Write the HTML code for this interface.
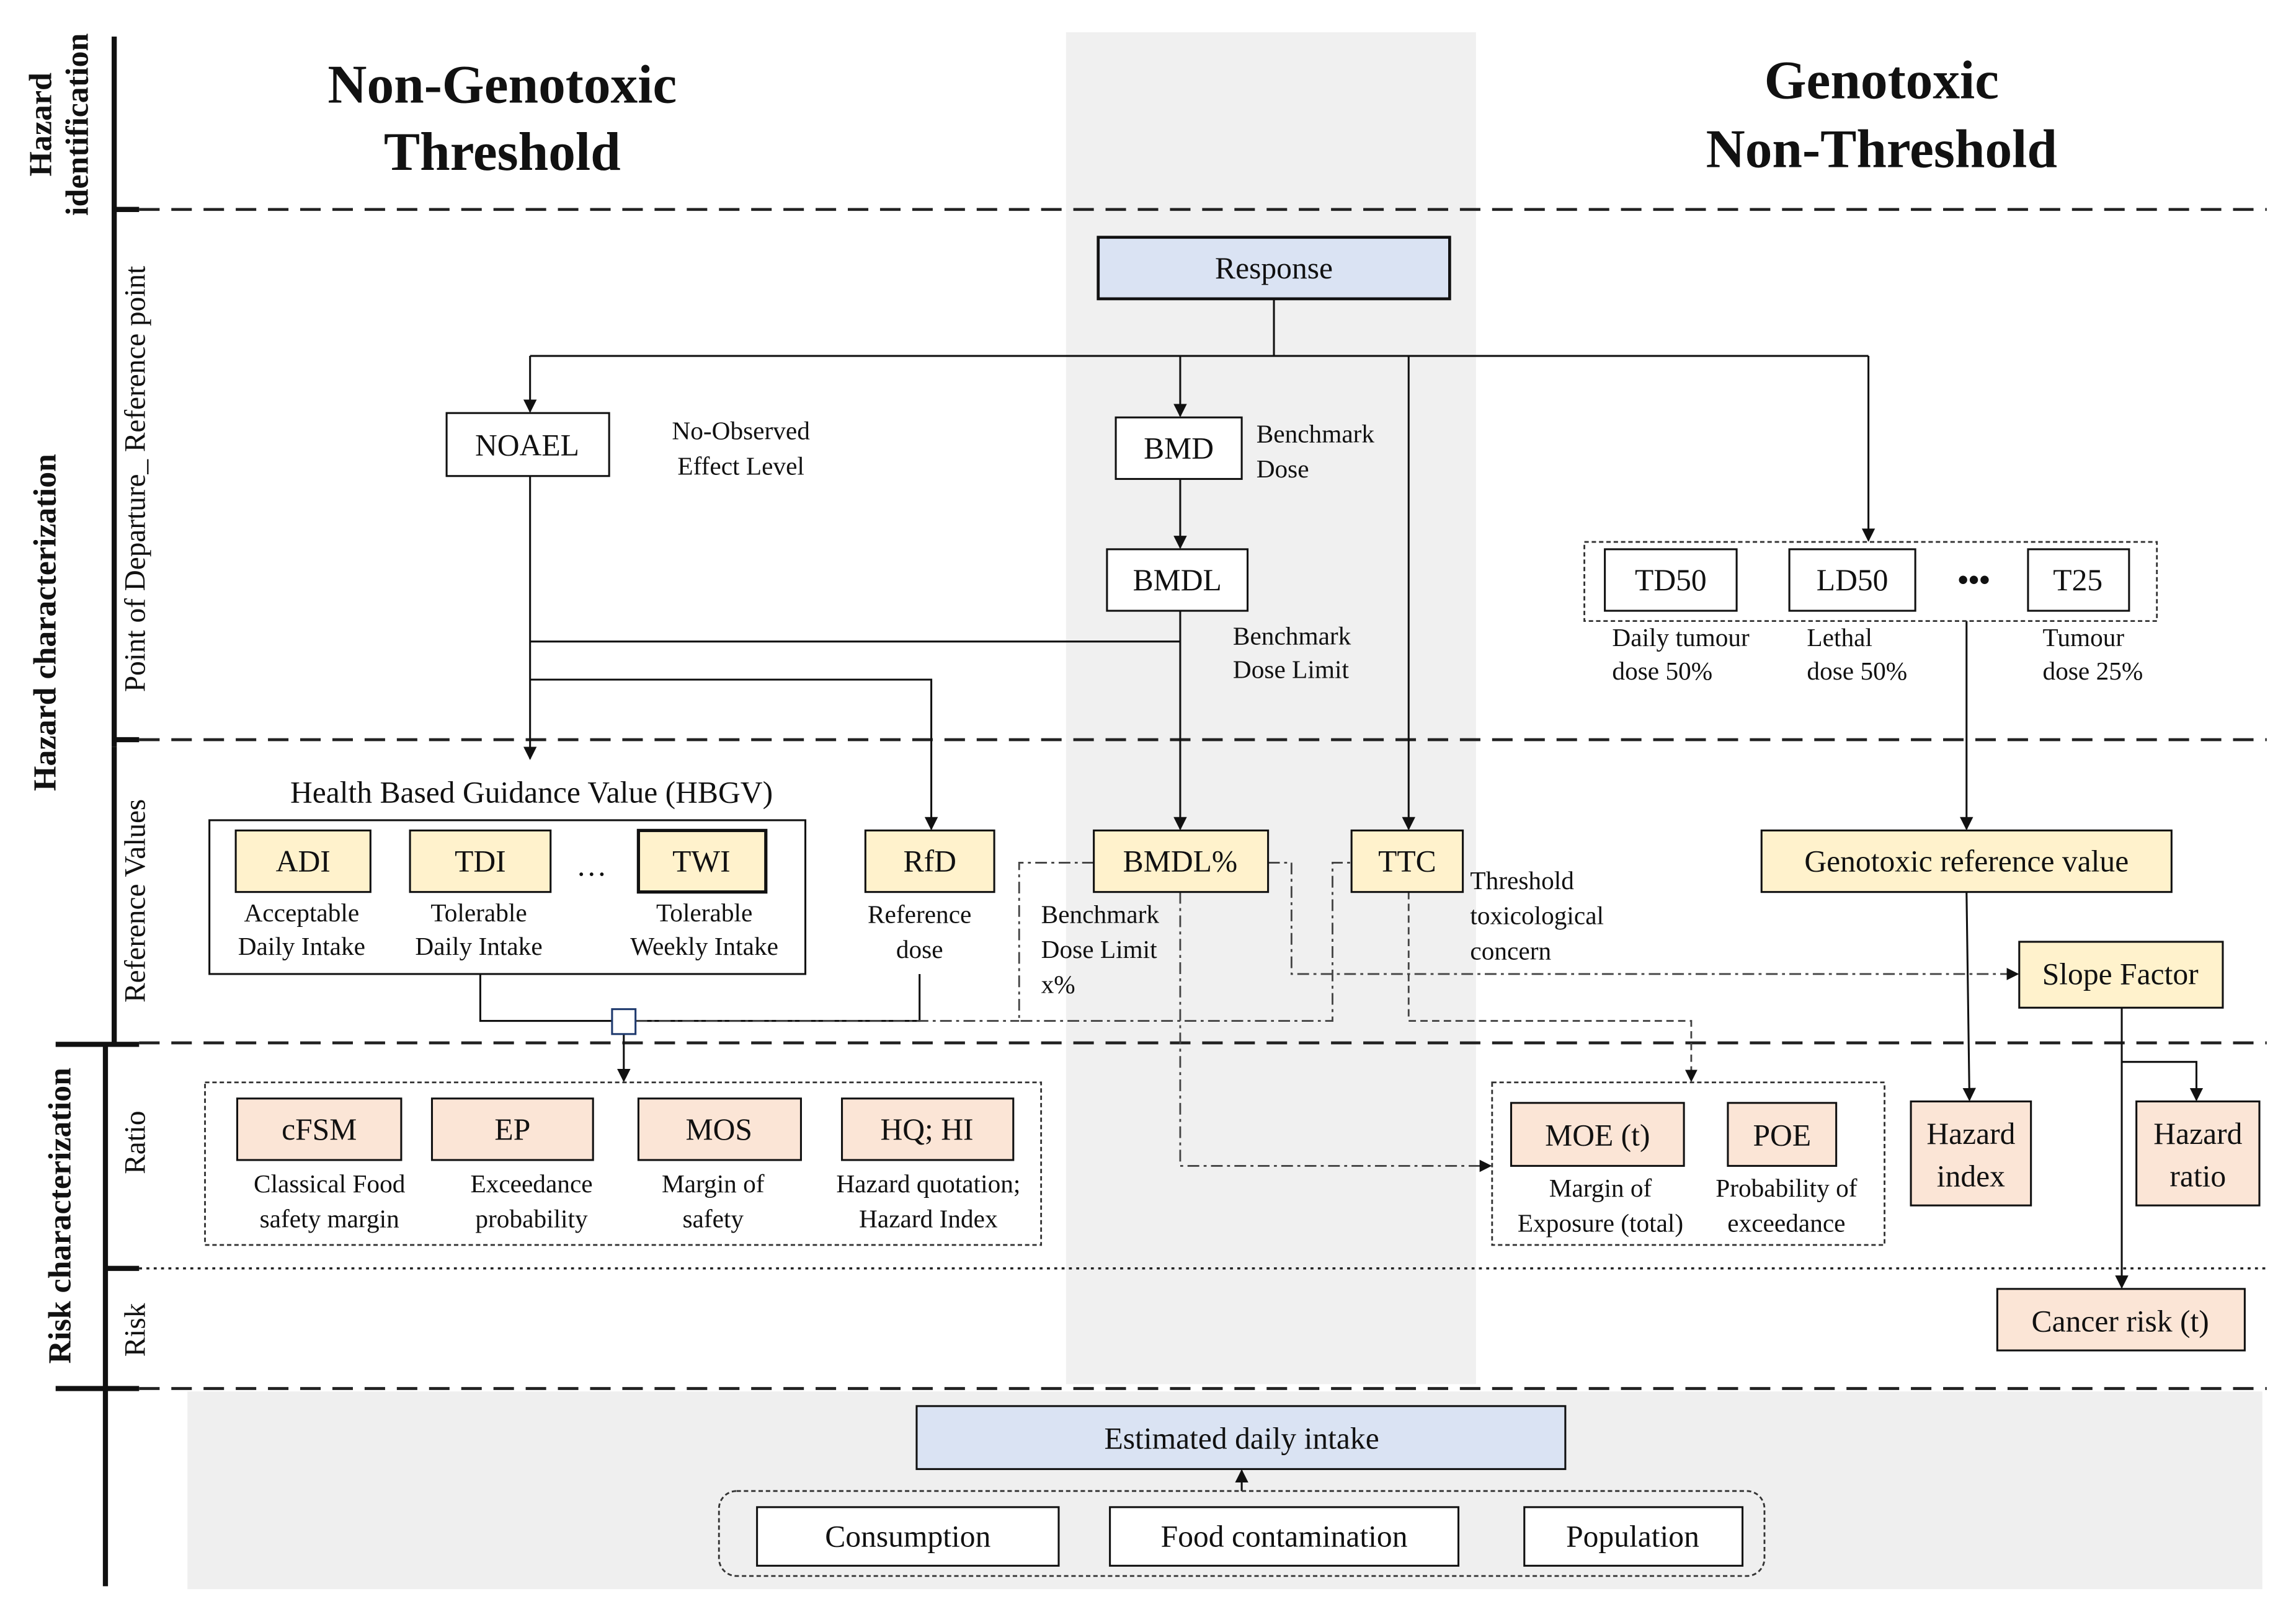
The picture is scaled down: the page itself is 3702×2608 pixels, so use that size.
<!DOCTYPE html>
<html><head><meta charset="utf-8"><style>
html,body{margin:0;padding:0;background:#fff;}
svg{display:block;}
text{font-family:"Liberation Serif",serif;fill:#111;}
.b{font-size:21px;text-anchor:middle;}
.s{font-size:17.5px;text-anchor:middle;}
.sl{font-size:17.5px;}
.t{font-size:37px;font-weight:bold;text-anchor:middle;}
.r{font-size:20px;text-anchor:middle;}
.rb{font-size:22px;font-weight:bold;text-anchor:middle;}
</style></head><body>
<svg width="3702" height="2608" viewBox="0 0 1568 1104" preserveAspectRatio="none" xmlns="http://www.w3.org/2000/svg">
<defs>
<marker id="a" viewBox="0 0 10 10" refX="9" refY="5" markerWidth="7" markerHeight="7" orient="auto"><path d="M0,0L10,5L0,10z" fill="#111"/></marker>
</defs>
<rect x="728" y="22" width="280" height="923" fill="#f0f0f0"/>
<rect x="128" y="950" width="1417" height="135" fill="#efefef"/>
<!-- left axis -->
<g stroke="#111" stroke-width="3.5">
<line x1="78" y1="25" x2="78" y2="510"/>
<line x1="72" y1="713" x2="72" y2="1083"/>
<line x1="78" y1="143" x2="95" y2="143"/>
<line x1="78" y1="505" x2="95" y2="505"/>
<line x1="38" y1="713" x2="95" y2="713"/>
<line x1="72" y1="866" x2="95" y2="866"/>
<line x1="38" y1="948" x2="95" y2="948"/>
<line x1="78" y1="510" x2="78" y2="713"/>
</g>
<g stroke="#222" stroke-width="2" stroke-dasharray="14,8">
<line x1="95" y1="143" x2="1548" y2="143"/>
<line x1="95" y1="505" x2="1548" y2="505"/>
<line x1="95" y1="712" x2="1548" y2="712"/>
<line x1="95" y1="948" x2="1548" y2="948"/>
</g>
<line x1="95" y1="866" x2="1548" y2="866" stroke="#222" stroke-width="1.5" stroke-dasharray="2,3"/>
<!-- rotated labels -->
<text class="rb" transform="translate(35,85) rotate(-90)">Hazard</text>
<text class="rb" transform="translate(60,85) rotate(-90)">identification</text>
<text class="rb" transform="translate(38,425) rotate(-90)">Hazard  characterization</text>
<text class="rb" transform="translate(48,830) rotate(-90)">Risk characterization</text>
<text class="r" transform="translate(99,327) rotate(-90)">Point of Departure_ Reference point</text>
<text class="r" transform="translate(99,615) rotate(-90)">Reference Values</text>
<text class="r" transform="translate(99,780) rotate(-90)">Ratio</text>
<text class="r" transform="translate(99,908) rotate(-90)">Risk</text>
<!-- titles -->
<text class="t" x="343" y="70">Non-Genotoxic</text>
<text class="t" x="343" y="116">Threshold</text>
<text class="t" x="1285" y="67">Genotoxic</text>
<text class="t" x="1285" y="114">Non-Threshold</text>
<!-- connectors -->
<g stroke="#111" stroke-width="1.3" fill="none">
<polyline points="870,204 870,243"/>
<line x1="362" y1="243" x2="1276" y2="243"/>
<line x1="362" y1="243" x2="362" y2="281" marker-end="url(#a)"/>
<line x1="806" y1="243" x2="806" y2="284" marker-end="url(#a)"/>
<line x1="962" y1="243" x2="962" y2="566" marker-end="url(#a)"/>
<line x1="1276" y1="243" x2="1276" y2="369" marker-end="url(#a)"/>
<line x1="806" y1="327" x2="806" y2="374" marker-end="url(#a)"/>
<line x1="362" y1="325" x2="362" y2="518" marker-end="url(#a)"/>
<line x1="362" y1="438" x2="806" y2="438"/>
<polyline points="362,464 636,464 636,566" marker-end="url(#a)"/>
<line x1="806" y1="417" x2="806" y2="566" marker-end="url(#a)"/>
<line x1="1343" y1="424" x2="1343" y2="566" marker-end="url(#a)"/>
<line x1="1343" y1="609" x2="1345" y2="751" marker-end="url(#a)"/>
<line x1="1449" y1="688" x2="1449" y2="879" marker-end="url(#a)"/>
<polyline points="1449,725 1500,725 1500,751" marker-end="url(#a)"/>
<polyline points="328,665 328,697 418,697"/>
<polyline points="628,665 628,697 434,697"/>
<line x1="426" y1="706" x2="426" y2="738" marker-end="url(#a)"/>
<line x1="848" y1="1018" x2="848" y2="1004" marker-end="url(#a)"/>
</g>
<g stroke="#444" stroke-width="1.2" fill="none" stroke-dasharray="8,3,2,3">
<polyline points="866,589 882,589 882,665 1378,665" marker-end="url(#a)"/>
<polyline points="747,589 696,589 696,697 910,697 910,589 923,589"/>
<line x1="434" y1="697" x2="696" y2="697"/>
<polyline points="806,609 806,796 1018,796" marker-end="url(#a)"/>
</g>
<polyline points="962,609 962,697 1155,697 1155,738" stroke="#444" stroke-width="1.2" fill="none" stroke-dasharray="5,3" marker-end="url(#a)"/>
<rect x="418" y="689" width="16" height="17" fill="#fff" stroke="#1f3a6e" stroke-width="1.3"/>
<!-- group boxes -->
<rect x="143" y="560" width="407" height="105" fill="#fff" stroke="#111" stroke-width="1.3"/>
<g fill="none" stroke="#333" stroke-width="1.2" stroke-dasharray="3,2">
<rect x="1082" y="370" width="391" height="54"/>
<rect x="140" y="739" width="571" height="111"/>
<rect x="1019" y="739" width="268" height="111"/>
<rect x="491" y="1018" width="714" height="58" rx="12"/>
</g>
<!-- boxes -->
<g stroke="#111" stroke-width="1.3">
<rect x="750" y="162" width="240" height="42" fill="#dae3f3" stroke-width="2"/>
<rect x="305" y="282" width="111" height="43" fill="#fff"/>
<rect x="762" y="285" width="86" height="42" fill="#fff"/>
<rect x="756" y="375" width="96" height="42" fill="#fff"/>
<rect x="1096" y="375" width="90" height="42" fill="#fff"/>
<rect x="1222" y="375" width="86" height="42" fill="#fff"/>
<rect x="1385" y="375" width="69" height="42" fill="#fff"/>
<rect x="161" y="567" width="92" height="42" fill="#fff2cc"/>
<rect x="280" y="567" width="96" height="42" fill="#fff2cc"/>
<rect x="436" y="567" width="87" height="42" fill="#fff2cc" stroke-width="2.2"/>
<rect x="591" y="567" width="88" height="42" fill="#fff2cc"/>
<rect x="747" y="567" width="119" height="42" fill="#fff2cc"/>
<rect x="923" y="567" width="76" height="42" fill="#fff2cc"/>
<rect x="1203" y="567" width="280" height="42" fill="#fff2cc"/>
<rect x="1379" y="643" width="139" height="45" fill="#fff2cc"/>
<rect x="162" y="750" width="112" height="42" fill="#fbe5d6"/>
<rect x="295" y="750" width="110" height="42" fill="#fbe5d6"/>
<rect x="436" y="750" width="111" height="42" fill="#fbe5d6"/>
<rect x="575" y="750" width="117" height="42" fill="#fbe5d6"/>
<rect x="1032" y="753" width="118" height="43" fill="#fbe5d6"/>
<rect x="1180" y="753" width="74" height="43" fill="#fbe5d6"/>
<rect x="1305" y="752" width="82" height="71" fill="#fbe5d6"/>
<rect x="1459" y="752" width="84" height="71" fill="#fbe5d6"/>
<rect x="1364" y="880" width="169" height="42" fill="#fbe5d6"/>
<rect x="626" y="960" width="443" height="43" fill="#dae3f3"/>
<rect x="517" y="1029" width="206" height="40" fill="#fff"/>
<rect x="758" y="1029" width="238" height="40" fill="#fff"/>
<rect x="1041" y="1029" width="149" height="40" fill="#fff"/>
</g>
<!-- box texts -->
<text class="b" x="870" y="190">Response</text>
<text class="b" x="360" y="311">NOAEL</text>
<text class="b" x="805" y="313">BMD</text>
<text class="b" x="804" y="403">BMDL</text>
<text class="b" x="1141" y="403">TD50</text>
<text class="b" x="1265" y="403">LD50</text>
<text class="b" x="1348" y="403" style="font-weight:bold">•••</text>
<text class="b" x="1419" y="403">T25</text>
<text class="b" x="363" y="548">Health Based Guidance Value (HBGV)</text>
<text class="b" x="207" y="595">ADI</text>
<text class="b" x="328" y="595">TDI</text>
<text class="b" x="404" y="598">…</text>
<text class="b" x="479" y="595">TWI</text>
<text class="b" x="635" y="595">RfD</text>
<text class="b" x="806" y="595">BMDL%</text>
<text class="b" x="961" y="595">TTC</text>
<text class="b" x="1343" y="595">Genotoxic reference value</text>
<text class="b" x="1448" y="672">Slope Factor</text>
<text class="b" x="218" y="778">cFSM</text>
<text class="b" x="350" y="778">EP</text>
<text class="b" x="491" y="778">MOS</text>
<text class="b" x="633" y="778">HQ; HI</text>
<text class="b" x="1091" y="782">MOE (t)</text>
<text class="b" x="1217" y="782">POE</text>
<text class="b" x="1346" y="781">Hazard</text>
<text class="b" x="1346" y="810">index</text>
<text class="b" x="1501" y="781">Hazard</text>
<text class="b" x="1501" y="810">ratio</text>
<text class="b" x="1448" y="909">Cancer risk (t)</text>
<text class="b" x="848" y="989">Estimated daily intake</text>
<text class="b" x="620" y="1056">Consumption</text>
<text class="b" x="877" y="1056">Food contamination</text>
<text class="b" x="1115" y="1056">Population</text>
<!-- small labels -->
<text class="s" x="506" y="300">No-Observed</text>
<text class="s" x="506" y="324">Effect Level</text>
<text class="sl" x="858" y="302">Benchmark</text>
<text class="sl" x="858" y="326">Dose</text>
<text class="sl" x="842" y="440">Benchmark</text>
<text class="sl" x="842" y="463">Dose Limit</text>
<text class="sl" x="1101" y="441">Daily tumour</text>
<text class="sl" x="1101" y="464">dose 50%</text>
<text class="sl" x="1234" y="441">Lethal</text>
<text class="sl" x="1234" y="464">dose 50%</text>
<text class="sl" x="1395" y="441">Tumour</text>
<text class="sl" x="1395" y="464">dose 25%</text>
<text class="s" x="206" y="629">Acceptable</text>
<text class="s" x="206" y="652">Daily Intake</text>
<text class="s" x="327" y="629">Tolerable</text>
<text class="s" x="327" y="652">Daily Intake</text>
<text class="s" x="481" y="629">Tolerable</text>
<text class="s" x="481" y="652">Weekly Intake</text>
<text class="s" x="628" y="630">Reference</text>
<text class="s" x="628" y="654">dose</text>
<text class="sl" x="711" y="630">Benchmark</text>
<text class="sl" x="711" y="654">Dose Limit</text>
<text class="sl" x="711" y="678">x%</text>
<text class="sl" x="1004" y="607">Threshold</text>
<text class="sl" x="1004" y="631">toxicological</text>
<text class="sl" x="1004" y="655">concern</text>
<text class="s" x="225" y="814">Classical Food</text>
<text class="s" x="225" y="838">safety margin</text>
<text class="s" x="363" y="814">Exceedance</text>
<text class="s" x="363" y="838">probability</text>
<text class="s" x="487" y="814">Margin of</text>
<text class="s" x="487" y="838">safety</text>
<text class="s" x="634" y="814">Hazard quotation;</text>
<text class="s" x="634" y="838">Hazard Index</text>
<text class="s" x="1093" y="817">Margin of</text>
<text class="s" x="1093" y="841">Exposure (total)</text>
<text class="s" x="1220" y="817">Probability of</text>
<text class="s" x="1220" y="841">exceedance</text>
</svg>
</body></html>
